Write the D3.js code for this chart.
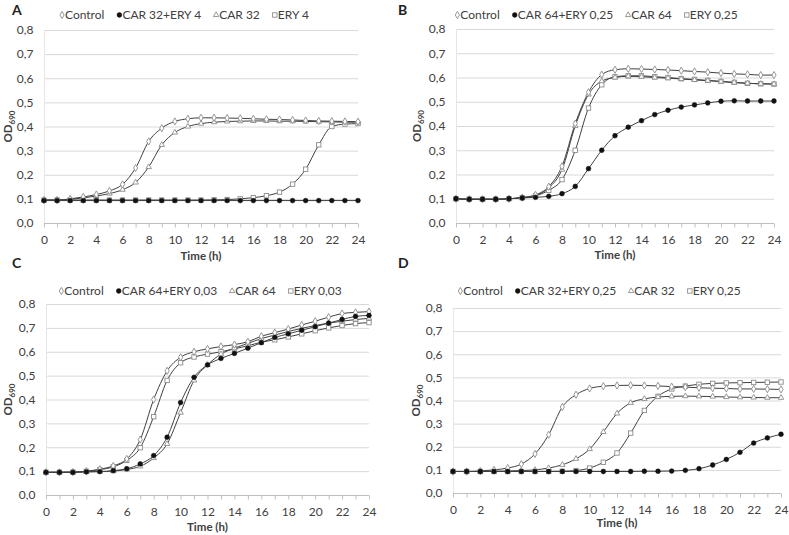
<!DOCTYPE html>
<html>
<head>
<meta charset="utf-8">
<script src="https://cdnjs.cloudflare.com/ajax/libs/d3/7.8.5/d3.min.js"></script>
<style>
  body { margin: 0; background: #fff; }
  svg { font-family: Lato, "Open Sans", sans-serif; }
  .tick_lbl { font-size: 12px; fill: #404040; font-family: Lato, "Open Sans", sans-serif; }
  .legend_lbl { font-size: 12px; fill: #404040; }
  .axis_title { font-size: 11.5px; font-weight: bold; fill: #404040; }
  .panel_lbl { font-size: 14px; font-weight: bold; fill: #222; }
</style>
</head>
<body>
<svg id="fig" width="789" height="535"></svg>
<script>
// growth curves, OD690
var hours = d3.range(0, 25);
var y_ticks = [0, 0.1, 0.2, 0.3, 0.4, 0.5, 0.6, 0.7, 0.8];
var x_ticks = [0, 2, 4, 6, 8, 10, 12, 14, 16, 18, 20, 22, 24];

var legend_A = ["Control", "CAR 32+ERY 4", "CAR 32", "ERY 4"];
var control_A = [0.095, 0.095, 0.100, 0.108, 0.118, 0.133, 0.160, 0.228, 0.338, 0.393, 0.421, 0.432, 0.436, 0.436, 0.435, 0.434, 0.432, 0.430, 0.429, 0.427, 0.425, 0.423, 0.422, 0.421, 0.420];
var combo_A   = [0.093, 0.093, 0.093, 0.093, 0.093, 0.093, 0.093, 0.093, 0.093, 0.093, 0.093, 0.093, 0.093, 0.093, 0.093, 0.093, 0.093, 0.093, 0.093, 0.093, 0.093, 0.093, 0.093, 0.093, 0.093];
var car_A     = [0.095, 0.095, 0.098, 0.104, 0.112, 0.122, 0.138, 0.168, 0.232, 0.324, 0.375, 0.400, 0.412, 0.418, 0.421, 0.422, 0.423, 0.423, 0.422, 0.422, 0.421, 0.420, 0.419, 0.418, 0.418];
var ery_A     = [0.095, 0.095, 0.095, 0.095, 0.095, 0.095, 0.095, 0.095, 0.095, 0.095, 0.095, 0.095, 0.095, 0.096, 0.097, 0.100, 0.105, 0.113, 0.128, 0.161, 0.223, 0.324, 0.400, 0.410, 0.412];

var legend_B = ["Control", "CAR 64+ERY 0,25", "CAR 64", "ERY 0,25"];
var control_B = [0.100, 0.098, 0.098, 0.098, 0.100, 0.105, 0.116, 0.150, 0.234, 0.410, 0.539, 0.612, 0.632, 0.636, 0.635, 0.633, 0.631, 0.628, 0.625, 0.622, 0.618, 0.615, 0.613, 0.610, 0.610];
var combo_B   = [0.100, 0.098, 0.098, 0.098, 0.100, 0.103, 0.106, 0.110, 0.121, 0.151, 0.224, 0.300, 0.360, 0.395, 0.422, 0.447, 0.465, 0.478, 0.487, 0.495, 0.502, 0.504, 0.503, 0.503, 0.503];
var car_B     = [0.100, 0.098, 0.098, 0.098, 0.100, 0.105, 0.114, 0.145, 0.220, 0.400, 0.530, 0.585, 0.600, 0.605, 0.603, 0.600, 0.597, 0.594, 0.590, 0.587, 0.583, 0.579, 0.576, 0.574, 0.573];
var ery_B     = [0.100, 0.098, 0.098, 0.098, 0.100, 0.104, 0.112, 0.135, 0.179, 0.300, 0.474, 0.570, 0.603, 0.607, 0.607, 0.603, 0.600, 0.595, 0.592, 0.588, 0.584, 0.580, 0.576, 0.574, 0.573];

var legend_C = ["Control", "CAR 64+ERY 0,03", "CAR 64", "ERY 0,03"];
var control_C = [0.095, 0.095, 0.096, 0.100, 0.108, 0.122, 0.151, 0.232, 0.400, 0.520, 0.577, 0.600, 0.612, 0.622, 0.630, 0.642, 0.665, 0.680, 0.695, 0.712, 0.728, 0.745, 0.760, 0.765, 0.768];
var combo_C   = [0.095, 0.095, 0.095, 0.097, 0.098, 0.102, 0.110, 0.130, 0.165, 0.242, 0.387, 0.493, 0.545, 0.572, 0.593, 0.615, 0.638, 0.660, 0.675, 0.690, 0.705, 0.720, 0.735, 0.748, 0.752];
var car_C     = [0.095, 0.095, 0.095, 0.097, 0.098, 0.100, 0.107, 0.120, 0.155, 0.214, 0.345, 0.480, 0.545, 0.590, 0.615, 0.635, 0.655, 0.670, 0.685, 0.698, 0.710, 0.720, 0.728, 0.735, 0.740];
var ery_C     = [0.095, 0.095, 0.096, 0.099, 0.106, 0.118, 0.145, 0.198, 0.328, 0.480, 0.554, 0.578, 0.590, 0.600, 0.612, 0.625, 0.640, 0.650, 0.662, 0.675, 0.688, 0.700, 0.710, 0.718, 0.722];

var legend_D = ["Control", "CAR 32+ERY 0,25", "CAR 32", "ERY 0,25"];
var control_D = [0.093, 0.093, 0.095, 0.100, 0.108, 0.125, 0.169, 0.252, 0.372, 0.425, 0.452, 0.462, 0.465, 0.466, 0.465, 0.463, 0.460, 0.458, 0.455, 0.453, 0.452, 0.450, 0.450, 0.449, 0.448];
var combo_D   = [0.093, 0.093, 0.093, 0.093, 0.093, 0.093, 0.093, 0.093, 0.093, 0.093, 0.093, 0.093, 0.093, 0.093, 0.094, 0.094, 0.095, 0.098, 0.105, 0.121, 0.145, 0.176, 0.216, 0.238, 0.254];
var car_D     = [0.093, 0.093, 0.093, 0.094, 0.095, 0.097, 0.100, 0.108, 0.122, 0.148, 0.190, 0.264, 0.344, 0.390, 0.407, 0.415, 0.418, 0.419, 0.418, 0.417, 0.415, 0.414, 0.413, 0.412, 0.412];
var ery_D     = [0.093, 0.093, 0.093, 0.093, 0.093, 0.093, 0.093, 0.093, 0.094, 0.097, 0.108, 0.133, 0.173, 0.259, 0.357, 0.418, 0.450, 0.462, 0.470, 0.474, 0.476, 0.477, 0.478, 0.479, 0.480];

// panel frames (plot area) - layout only
var panels = [
   { id: "A", legend: legend_A, series: [control_A, combo_A, car_A, ery_A], left: 44, right: 358, top: 30, bottom: 223, lx: 12, ly: 15, legX: 184, legY: 15, odX: 12, timeY: 260 },
   { id: "B", legend: legend_B, series: [control_B, combo_B, car_B, ery_B], left: 456, right: 774, top: 29, bottom: 223, lx: 398, ly: 15, legX: 596, legY: 15, odX: 421, timeY: 259 },
   { id: "C", legend: legend_C, series: [control_C, combo_C, car_C, ery_C], left: 46, right: 369, top: 304, bottom: 495, lx: 12, ly: 268, legX: 200, legY: 291, odX: 12, timeY: 531 },
   { id: "D", legend: legend_D, series: [control_D, combo_D, car_D, ery_D], left: 453, right: 781, top: 308, bottom: 493, lx: 398, ly: 268, legX: 599, legY: 291, odX: 420, timeY: 527 }
];

var svg_canvas = d3.select("#fig");

// marker per series: control diamond, combo filled dot, CAR triangle, ERY square
function draw_marker(g, kind, x, y) {
   if (kind == 0) {
      g.append("path").attr("d", d3.symbol(d3.symbolDiamond, 15)())
         .attr("transform", "translate(" + x + "," + y + ")")
         .attr("fill", "#fff").attr("stroke", "#8c8c8c").attr("stroke-width", 0.9);
   } else if (kind == 1) {
      g.append("circle").attr("cx", x).attr("cy", y).attr("r", 2.4)
         .attr("fill", "#111").attr("stroke", "#111").attr("stroke-width", 0.5);
   } else if (kind == 2) {
      g.append("path").attr("d", d3.symbol(d3.symbolTriangle, 13)())
         .attr("transform", "translate(" + x + "," + y + ")")
         .attr("fill", "#fff").attr("stroke", "#8c8c8c").attr("stroke-width", 0.9);
   } else {
      g.append("rect").attr("x", x - 2.2).attr("y", y - 2.2).attr("width", 4.4).attr("height", 4.4)
         .attr("fill", "#fff").attr("stroke", "#8c8c8c").attr("stroke-width", 0.9);
   }
}

panels.forEach(function(p) {
   var g = svg_canvas.append("g").attr("id", "panel_" + p.id);
   var x = d3.scaleLinear().domain([0, 24]).range([p.left, p.right]);
   var y = d3.scaleLinear().domain([0, 0.8]).range([p.bottom, p.top]);

   // horizontal grid
   g.append("g").selectAll("line").data(y_ticks.slice(1)).join("line")
      .attr("x1", p.left).attr("x2", p.right)
      .attr("y1", function(d) { return y(d) + 0.5; }).attr("y2", function(d) { return y(d) + 0.5; })
      .attr("stroke", "#d9d9d9").attr("stroke-width", 1);

   // y axis: faint line + labels
   var ya = g.append("g").attr("transform", "translate(" + (p.left + 0.5) + ",0)")
      .call(d3.axisLeft(y).tickValues(y_ticks).tickSize(0).tickPadding(11)
         .tickFormat(function(d) { return d3.format(".1f")(d).replace(".", ","); }));
   ya.attr("font-family", null).attr("font-size", null);
   ya.select(".domain").attr("stroke", "#e6e6e6").attr("d", "M0," + p.top + "V" + p.bottom);
   ya.selectAll("text").attr("class", "tick_lbl");

   // x axis with hourly ticks
   var xa = g.append("g").attr("transform", "translate(0," + (p.bottom + 0.5) + ")")
      .call(d3.axisBottom(x).tickValues(hours).tickSize(4).tickPadding(8)
         .tickFormat(function(d) { return d % 2 == 0 ? d : ""; }));
   xa.attr("font-family", null).attr("font-size", null);
   xa.select(".domain").attr("stroke", "#bfbfbf").attr("d", "M" + p.left + ",0H" + p.right);
   xa.selectAll(".tick line").attr("stroke", "#bfbfbf");
   xa.selectAll("text").attr("class", "tick_lbl");

   // curves
   var line = d3.line().x(function(d, i) { return x(hours[i]); }).y(function(d) { return y(d); })
      .curve(d3.curveMonotoneX);
   p.series.forEach(function(s) {
      g.append("path").datum(s).attr("d", line)
         .attr("fill", "none").attr("stroke", "#404040").attr("stroke-width", 1);
   });
   [3, 2, 0, 1].forEach(function(k) {
      p.series[k].forEach(function(v, i) { draw_marker(g, k, x(hours[i]), y(v)); });
   });

   // legend centred at legX
   var leg = g.append("g");
   var cx = 0;
   p.legend.forEach(function(name, k) {
      var it = leg.append("g").attr("transform", "translate(" + cx + ",0)");
      draw_marker(it, k, 3, 0);
      var t = it.append("text").attr("class", "legend_lbl").attr("x", 6).attr("y", 4.3).text(name);
      cx += 6 + t.node().getComputedTextLength() + 12;
   });
   cx -= 12;
   leg.attr("transform", "translate(" + (p.legX - cx / 2) + "," + p.legY + ")");

   // axis titles
   var od = g.append("text").attr("class", "axis_title")
      .attr("transform", "translate(" + p.odX + "," + ((p.top + p.bottom) / 2) + ") rotate(-90)")
      .attr("text-anchor", "middle");
   od.append("tspan").text("OD");
   od.append("tspan").attr("font-size", "8px").attr("dy", 3).text("690");

   g.append("text").attr("class", "axis_title")
      .attr("x", (p.left + p.right) / 2).attr("y", p.timeY)
      .attr("text-anchor", "middle").text("Time (h)");

   g.append("text").attr("class", "panel_lbl").attr("x", p.lx).attr("y", p.ly).text(p.id);
});
</script>
</body>
</html>
